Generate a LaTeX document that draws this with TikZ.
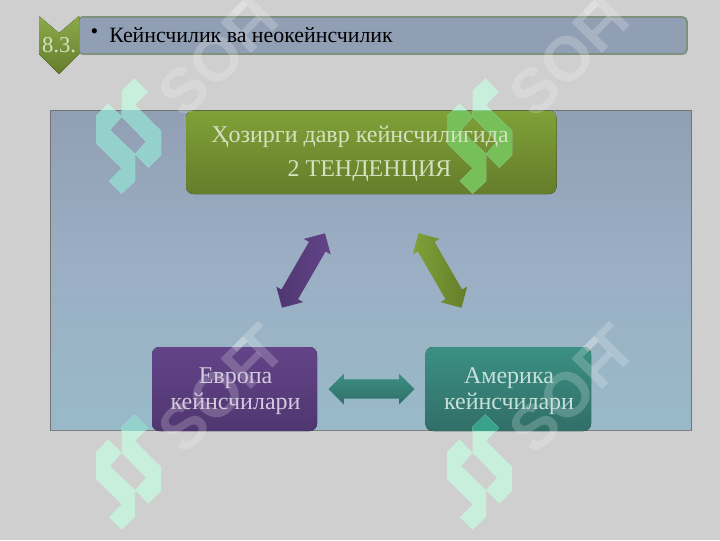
\documentclass[tikz,border=0pt]{standalone}
\usepackage{fontspec}
\setmainfont{Liberation Serif}
\newfontfamily\wmfont{Liberation Sans}
\usetikzlibrary{shapes.arrows,calc}
\definecolor{pagebg}{HTML}{CFCFCF}
\definecolor{grA}{HTML}{7FA137}
\definecolor{grB}{HTML}{647D2B}
\definecolor{puA}{HTML}{634488}
\definecolor{puB}{HTML}{4F3670}
\definecolor{teA}{HTML}{3B8F83}
\definecolor{teB}{HTML}{316F68}
\definecolor{paA}{HTML}{919FB4}
\definecolor{paM}{HTML}{9BAFC4}
\definecolor{paB}{HTML}{98BAC8}
\definecolor{lgbase}{HTML}{C8EEDC}
\definecolor{lgpanel}{HTML}{8FCDCB}
\definecolor{lggreen}{HTML}{72BE46}
\definecolor{lgteal}{HTML}{2E9E84}
\tikzset{
  x=0.75pt,y=-0.75pt,
  greenbox/.style={top color=grA,bottom color=grB},
  purplebox/.style={top color=puA,bottom color=puB},
  tealbox/.style={top color=teA,bottom color=teB},
  dblarrow/.style={double arrow,double arrow head extend=4.4pt,double arrow head indent=0pt,
    inner xsep=0pt,inner ysep=7pt,minimum height=#1,draw=none},
  wmtext/.style={text=white,opacity=.2,font=\wmfont\bfseries\fontsize{47}{47}\selectfont,rotate=45,inner sep=0pt},
  boxtext/.style={font=\fontsize{18}{19.5}\selectfont,align=center,inner sep=0pt},
  barline/.style={font=\fontsize{16.4}{18}\selectfont,inner sep=0pt,text=black},
}
\newcommand{\logopath}{(108.3,103.3) -- (96,116) -- (96,143.3) -- (121.7,168.3) -- (109,181) -- (121.7,193.7) -- (135,181) -- (135,154) -- (148.3,167.7) -- (161,155) -- (161,130.7) -- (135,105) -- (148,91.7) -- (134.3,78.3) -- (121.7,90.7) -- (121.7,116.7) -- cycle (110,130) -- (121.7,116.7) -- (146,141.7) -- (135,154) -- cycle}
\begin{document}
\begin{tikzpicture}
\useasboundingbox (0,0) rectangle (720,540);
\fill[pagebg] (0,0) rectangle (720,540);
% title bar
\fill[rounded corners=3.5pt,fill=paA,draw=grB!40!paA,line width=1.4pt] (78,17) rectangle (687,54);
% chevron
\fill[top color=grA!90!white,bottom color=grB] (39,16) -- (59,33) -- (79,16) -- (79,54) -- (59,74) -- (39,54) -- cycle;
% panel
\fill[top color=paA,bottom color=paB,middle color=paM] (50.5,110.5) rectangle (691.5,430.5);
\draw[gray!90!black,line width=.4pt] (50.5,430.5) -- (50.5,110.5) -- (691.5,110.5) -- (691.5,430.5);
\draw[gray,line width=1.1pt] (50.5,430.5) -- (691.5,430.5);
% boxes
\fill[rounded corners=5.5pt,greenbox] (186,110.5) rectangle (556.5,194);
\fill[rounded corners=5.5pt,purplebox] (152,347) rectangle (317,431);
\fill[rounded corners=5.5pt,tealbox] (425.5,347) rectangle (591,431);
% arrows
\node (a1) [dblarrow=64.5pt,rotate=60,left color=puB,right color=puA] at (303.5,270.5) {};
\node (a2) [dblarrow=64.5pt,rotate=-60,left color=grA,right color=grB] at (440,270.5) {};
\node (a3) [dblarrow=64.5pt,top color=teA,bottom color=teB] at (371.5,389) {};
% watermarks
\foreach \dx/\dy in {0/0,351/0,0/336,351/336}{
 \begin{scope}[shift={(\dx,\dy)}]
  \fill[lgbase,even odd rule] \logopath;
  \node (wm\dx\dy) [wmtext] at (222,53) {SOF\kern-.30em T};
 \end{scope}
}
% the logos where they lie over the panel and the boxes
\foreach \dx/\dy in {0/0,351/0,0/336,351/336}{
 \begin{scope}
  \clip (50.5,110.5) rectangle (691.5,430);
  \begin{scope}[shift={(\dx,\dy)}]
   \fill[lgpanel,even odd rule,opacity=.9] \logopath;
  \end{scope}
 \end{scope}
 \begin{scope}
  \clip[rounded corners=5.5pt] (186,110.5) rectangle (556.5,194);
  \begin{scope}[shift={(\dx,\dy)}]
   \fill[lggreen,even odd rule,opacity=.85] \logopath;
  \end{scope}
 \end{scope}
 \begin{scope}
  \clip[rounded corners=5.5pt] (425.5,347) rectangle (591,431);
  \begin{scope}[shift={(\dx,\dy)}]
   \fill[lgteal,even odd rule,opacity=.9] \logopath;
  \end{scope}
 \end{scope}
}
% texts
\node (num) [text=white!68!grA,font=\fontsize{17}{18}\selectfont,inner sep=0pt] at (59,45) {8.3.};
\node (bul) [barline] at (94.5,34) {•};
\node (title) [barline,anchor=west] at (109,35) {Кейнсчилик ва неокейнсчилик};
\node (top) [boxtext,text=white!68!grA,anchor=west] at (211,137) {Ҳозирги давр кейнсчилигида};
\node (top2) [boxtext,text=white!68!grA] at (369.5,171) {2 ТЕНДЕНЦИЯ};
\node (eu) [boxtext,text=white!72!puA] at (235.5,391) {Европа\\кейнсчилари};
\node (am) [boxtext,text=white!72!teA] at (509,391) {Америка\\кейнсчилари};
\end{tikzpicture}
\end{document}
